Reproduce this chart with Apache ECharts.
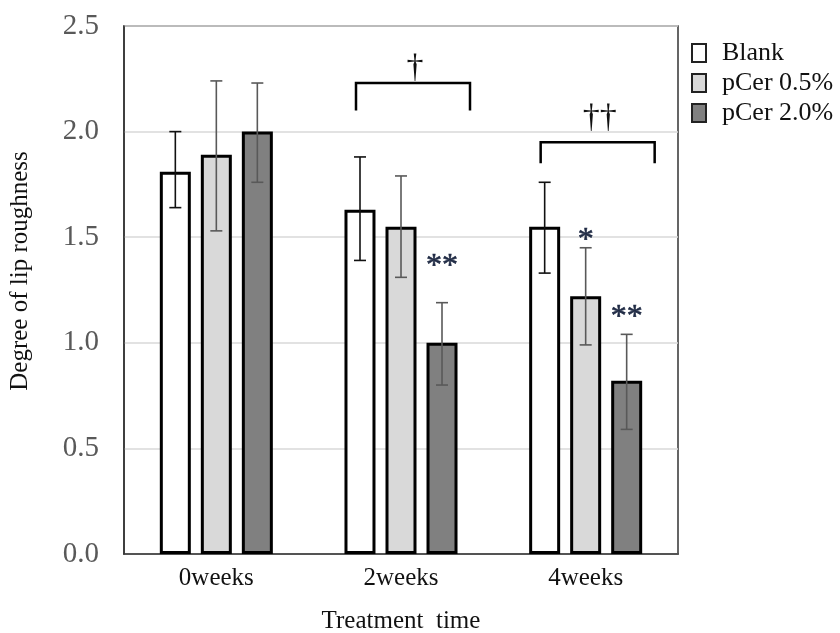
<!DOCTYPE html>
<html>
<head>
<meta charset="utf-8">
<script src="https://cdn.jsdelivr.net/npm/echarts@6/dist/echarts.min.js"></script>
<style>
  html, body { margin: 0; padding: 0; background: #fff; }
  #chart { width: 840px; height: 633px; }
</style>
</head>
<body>
<div id="chart"></div>
<script>
// 横轴分组
const categories = ['0weeks', '2weeks', '4weeks'];
const seriesNames = ['Blank', 'pCer 0.5%', 'pCer 2.0%'];
// 柱高（平均值）
const blankVals = [1.81, 1.63, 1.55];
const cer05Vals = [1.89, 1.55, 1.22];
const cer20Vals = [2.00, 1.00, 0.82];
// 误差线上下端
const blankErr = [[1.64, 2.00], [1.39, 1.88], [1.33, 1.76]];
const cer05Err = [[1.53, 2.24], [1.31, 1.79], [0.99, 1.45]];
const cer20Err = [[1.76, 2.23], [0.80, 1.19], [0.59, 1.04]];
// 显著性星号 [分组, 系列, 位置值, 文本]
const stars = [[1, 2, 1.39, '**'], [2, 1, 1.51, '*'], [2, 2, 1.15, '**']];
// 组间比较括号 [分组, 横线值, 端点值, 符号底部值, 文本]
const brackets = [[1, 2.23, 2.10, 2.26, '†'], [2, 1.95, 1.85, 2.02, '††']];
const yTicks = [0, 0.5, 1.0, 1.5, 2.0, 2.5];

const FONT = '"Liberation Serif", "DejaVu Serif", serif';
const BAR_W = 31;
const STEP = 41; // 相邻柱中心距离

const chart = echarts.init(document.getElementById('chart'));

function errSeries(idx, errs, color) {
  return {
    type: 'custom',
    name: 'err' + idx,
    z: 5,
    data: errs.map((e, i) => [i, e[0], e[1]]),
    renderItem(params, api) {
      const lo = api.coord([api.value(0), api.value(1)]);
      const hi = api.coord([api.value(0), api.value(2)]);
      const x = lo[0] + (idx - 1) * STEP;
      const cap = 6;
      const style = { stroke: color, lineWidth: 1.6 };
      return {
        type: 'group',
        children: [
          { type: 'line', shape: { x1: x, y1: lo[1], x2: x, y2: hi[1] }, style },
          { type: 'line', shape: { x1: x - cap, y1: lo[1], x2: x + cap, y2: lo[1] }, style },
          { type: 'line', shape: { x1: x - cap, y1: hi[1], x2: x + cap, y2: hi[1] }, style }
        ]
      };
    }
  };
}

function barSeries(name, vals, fill) {
  return {
    type: 'bar',
    name: name,
    data: vals,
    barWidth: BAR_W,
    barGap: ((STEP - BAR_W) / BAR_W * 100).toFixed(1) + '%',
    itemStyle: { color: fill, borderColor: '#000', borderWidth: 3 }
  };
}

const option = {
  backgroundColor: '#fff',
  animation: false,
  grid: {
    left: 124, top: 26, right: 162, bottom: 79,
    outerBoundsMode: 'none',
    containLabel: false,
    show: true, borderColor: '#333', borderWidth: 1.5
  },
  legend: {
    data: seriesNames,
    orient: 'vertical',
    left: 691, top: 40,
    padding: 0,
    itemWidth: 14, itemHeight: 18, itemGap: 4,
    icon: 'rect',
    itemStyle: { borderWidth: 2, borderColor: '#222' },
    textStyle: { fontFamily: FONT, fontSize: 26, color: '#111', padding: [0, 0, 0, 11] }
  },
  xAxis: {
    type: 'category',
    data: categories,
    axisTick: { show: false },
    axisLine: { lineStyle: { color: '#333', width: 1.5 } },
    axisLabel: { fontFamily: FONT, fontSize: 25, color: '#111', margin: 12 },
    name: 'Treatment  time',
    nameLocation: 'middle',
    nameGap: 55,
    nameTextStyle: { fontFamily: FONT, fontSize: 25, color: '#111' }
  },
  yAxis: {
    type: 'value',
    min: yTicks[0],
    max: yTicks[yTicks.length - 1],
    interval: 0.5,
    axisLine: { show: true, lineStyle: { color: '#333', width: 1.5 } },
    axisTick: { show: false },
    splitLine: { lineStyle: { color: '#d9d9d9', width: 1.5 } },
    axisLabel: {
      fontFamily: FONT, fontSize: 29, color: '#595959', margin: 25,
      formatter: v => v.toFixed(1)
    },
    name: 'Degree of lip roughness',
    nameLocation: 'middle',
    nameGap: 91,
    nameTextStyle: { fontFamily: FONT, fontSize: 25, color: '#111', padding: [0, 0, 0, 38] }
  },
  series: [
    barSeries(seriesNames[0], blankVals, '#ffffff'),
    barSeries(seriesNames[1], cer05Vals, '#d9d9d9'),
    barSeries(seriesNames[2], cer20Vals, '#808080'),
    errSeries(0, blankErr, '#111'),
    errSeries(1, cer05Err, '#595959'),
    errSeries(2, cer20Err, '#595959'),
    {
      type: 'custom',
      name: 'stars',
      z: 6,
      data: stars,
      renderItem(params, api) {
        const p = api.coord([api.value(0), api.value(2)]);
        return {
          type: 'text',
          x: p[0] + (api.value(1) - 1) * STEP,
          y: p[1] + 6,
          style: {
            text: stars[params.dataIndex][3],
            fontFamily: FONT, fontSize: 32, fill: '#1f2a44',
            stroke: '#1f2a44', lineWidth: 0.6,
            align: 'center', verticalAlign: 'middle'
          }
        };
      }
    },
    {
      type: 'custom',
      name: 'brackets',
      z: 6,
      data: brackets,
      renderItem(params, api) {
        const top = api.coord([api.value(0), api.value(1)]);
        const end = api.coord([api.value(0), api.value(2)]);
        const sym = api.coord([api.value(0), api.value(3)]);
        const x1 = top[0] - 45, x2 = top[0] + 69;
        return {
          type: 'group',
          children: [
            {
              type: 'polyline',
              shape: { points: [[x1, end[1]], [x1, top[1]], [x2, top[1]], [x2, end[1]]] },
              style: { stroke: '#000', lineWidth: 2.5, fill: null }
            },
            {
              type: 'text',
              x: (x1 + x2) / 2 + 2,
              y: sym[1] + 8,
              style: {
                text: brackets[params.dataIndex][4],
                fontFamily: FONT, fontSize: 34, fill: '#111',
                align: 'center', verticalAlign: 'bottom'
              }
            }
          ]
        };
      }
    }
  ]
};

chart.setOption(option);
</script>
</body>
</html>
